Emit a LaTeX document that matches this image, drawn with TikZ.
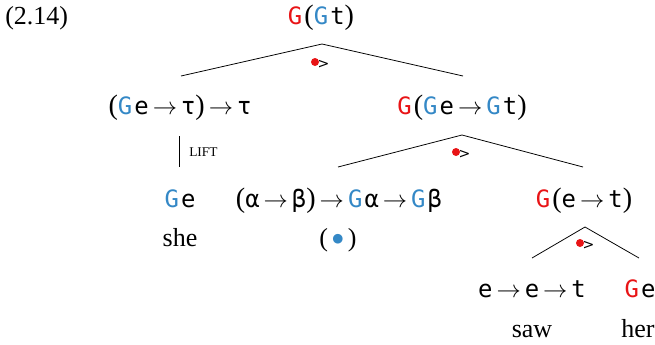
\documentclass[tikz,border=0pt]{standalone}
\usepackage{fontspec}
\setmainfont{Liberation Serif}
\newfontfamily\tyfont{DejaVu Sans Mono}
\newfontfamily\symfont{DejaVu Sans}
\usetikzlibrary{positioning}
\definecolor{gred}{RGB}{232,20,22}
\definecolor{gblue}{RGB}{52,136,198}

% type pieces
\newcommand\Gr{{\color{gred}G}\kern1.5pt}
\newcommand\Gb{{\color{gblue}G}\kern1.5pt}
\newcommand\tyto{\,{\rmfamily$\to$}\,}
\newcommand\tyl{{\rmfamily\fontsize{20}{22}\selectfont(}}
\newcommand\tyr{{\rmfamily\fontsize{20}{22}\selectfont)}}

\tikzset{
  ty/.style={font=\tyfont\fontsize{17}{20}\selectfont, anchor=base, inner sep=0pt},
  wd/.style={font=\fontsize{18.5}{22}\selectfont, anchor=base, inner sep=0pt},
  dotop/.style={circle, fill=gred, inner sep=0pt, minimum size=0.2cm,
    label={[font=\symfont\fontsize{10}{11}\selectfont, inner sep=0pt, anchor=west, xshift=-1pt]-30:>}},
  branch/.style={line width=0.55pt},
}

\begin{document}
\begin{tikzpicture}[x=0.025cm, y=-0.025cm]
\useasboundingbox (0,0) rectangle (655,344);

% example number
\node[wd, anchor=base west] (num) at (5,24) {(2.14)};

% root
\node[ty] (root) at (321,24) {\Gr\tyl\Gb t\tyr};
\coordinate (t1) at (322,44);
\coordinate (t1l) at (181,76);
\coordinate (t1r) at (463,76);
\draw[branch] (t1l) -- (t1) -- (t1r);
\node[dotop] (op1) at (315,62) {};

% first level
\node[ty] (lifted) at (180,114) {\tyl\Gb e\tyto τ\tyr\tyto τ};
\node[ty] (mapped) at (462,114) {\Gr\tyl\Gb e\tyto\Gb t\tyr};

% lift step
\coordinate (lt) at (179,136);
\coordinate (lb) at (179,167);
\draw[line width=0.5pt] (lt) -- (lb);
\node[font=\fontsize{9.5}{11}\selectfont, anchor=west, inner sep=0pt] (lift) at (189,152) {LIFT};

\node[ty] (she) at (180,207) {\Gb e};
\node[wd] (shew) at (180,246) {she};

% second level
\coordinate (t2) at (462,135);
\coordinate (t2l) at (338,167);
\coordinate (t2r) at (583,167);
\draw[branch] (t2l) -- (t2) -- (t2r);
\node[dotop] (op2) at (456,152) {};

\node[ty] (fmap) at (339,207) {\tyl α\tyto β\tyr\tyto\Gb α\tyto\Gb β};
\node[wd] (fmapw) at (338,246) {(\,\raisebox{2.6pt}{\color{gblue}\symfont\fontsize{9}{9}\selectfont ●}\,)};
\node[ty] (vp) at (584,207) {\Gr\tyl e\tyto t\tyr};

% third level
\coordinate (t3) at (585,227);
\coordinate (t3l) at (532,258);
\coordinate (t3r) at (639,258);
\draw[branch] (t3l) -- (t3) -- (t3r);
\node[dotop] (op3) at (580,243) {};

\node[ty] (verb) at (532,297) {e\tyto e\tyto t};
\node[ty] (obj) at (640,297) {\Gr e};
\node[wd] (saw) at (532,337) {saw};
\node[wd] (her) at (638,337) {her};

\end{tikzpicture}
\end{document}
